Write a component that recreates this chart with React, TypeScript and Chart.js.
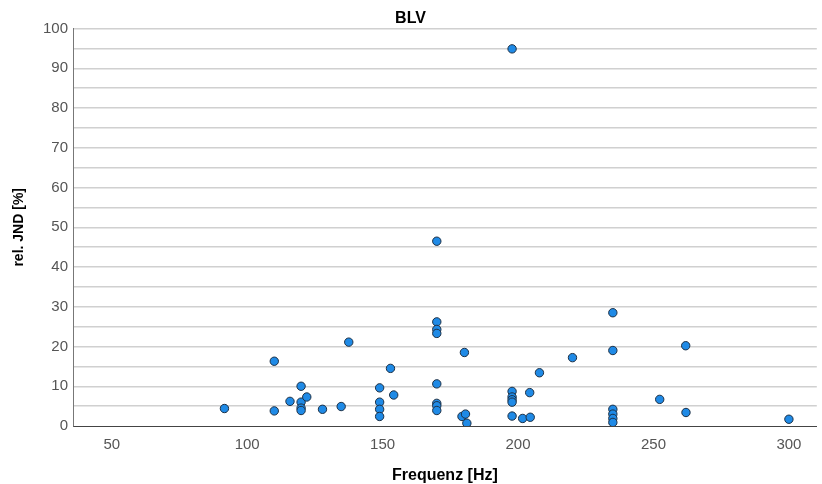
import React, { useEffect, useRef } from "react";
import { Chart, registerables } from "chart.js";

Chart.register(...registerables);

// Frequency [Hz] of each measurement
const frequencies: number[] = [
  91.6, 110, 110, 115.8, 119.9, 119.9, 119.9, 119.9, 122, 127.8,
  134.7, 137.5, 148.9, 148.9, 148.9, 148.9, 152.9, 154.1, 170, 170,
  170, 170, 170, 170, 170, 170, 180.2, 179.3, 180.6, 181.1,
  197.8, 197.8, 197.8, 197.8, 197.8, 197.8, 201.7, 204.3, 204.5, 207.9,
  220.1, 235, 235, 235, 235, 235, 235, 252.3, 261.9, 262,
  300,
];

// Relative just-noticeable difference [%] for each measurement
const relJnd: number[] = [
  4.4, 16.3, 3.8, 6.2, 10.0, 6.0, 4.5, 3.9, 7.3, 4.2,
  4.9, 21.1, 9.6, 6.0, 4.2, 2.4, 14.5, 7.8, 46.5, 26.2,
  24.3, 23.3, 10.6, 5.7, 5.1, 3.9, 18.5, 2.4, 3.0, 0.7,
  94.9, 8.7, 7.3, 6.6, 6.0, 2.5, 1.9, 8.4, 2.2, 13.4,
  17.2, 28.5, 19.0, 4.2, 3.0, 1.9, 0.9, 6.7, 20.2, 3.4,
  1.7,
];

const xTickValues: number[] = [50, 100, 150, 200, 250, 300];

const FONT = "'Liberation Sans', Arial, sans-serif";

export default function App() {
  const canvasRef = useRef<HTMLCanvasElement | null>(null);

  useEffect(() => {
    document.body.style.margin = "0";
    const canvas = canvasRef.current;
    if (!canvas) return;

    const points = frequencies.map((f, i) => ({ x: f, y: relJnd[i] }));

    const chart = new Chart(canvas, {
      type: "scatter",
      data: {
        datasets: [
          {
            label: "BLV",
            data: points,
            backgroundColor: "#1f8ae6",
            borderColor: "#1c2f44",
            borderWidth: 1,
            pointRadius: 4.2,
            pointHoverRadius: 4.2,
          },
        ],
      },
      options: {
        responsive: false,
        animation: false,
        layout: { padding: { left: 0, right: 1, top: 0, bottom: -2 } },
        plugins: {
          legend: { display: false },
          tooltip: { enabled: false },
          title: {
            display: true,
            text: "BLV",
            color: "#000000",
            font: { family: FONT, size: 16, weight: "bold" },
            padding: { top: 9.4, bottom: 0 },
          },
        },
        scales: {
          x: {
            type: "linear",
            min: 35.7,
            max: 310.3,
            afterBuildTicks: (scale: any) => {
              scale.ticks = xTickValues.map((v) => ({ value: v }));
            },
            ticks: {
              color: "#555555",
              font: { family: FONT, size: 15 },
              padding: 10,
              maxRotation: 0,
              autoSkip: false,
            },
            grid: { display: false, drawTicks: false },
            border: { display: true, color: "#444444", width: 1 },
            title: {
              display: true,
              text: "Frequenz [Hz]",
              color: "#000000",
              font: { family: FONT, size: 16, weight: "bold" },
              padding: { top: 2.4, bottom: 0.4 },
            },
          },
          y: {
            type: "linear",
            min: 0,
            max: 100,
            ticks: {
              stepSize: 5,
              autoSkip: false,
              color: "#555555",
              font: { family: FONT, size: 15 },
              padding: 5,
              callback: (v: any) => (Number(v) % 10 === 0 ? String(v) : ""),
            },
            grid: {
              display: true,
              drawTicks: false,
              color: (ctx: any) => (ctx.tick && ctx.tick.value === 0 ? "rgba(0,0,0,0)" : "#d0d0d0"),
              lineWidth: 1.5,
            },
            border: { display: true, color: "#777777", width: 1 },
            title: {
              display: true,
              text: "rel. JND [%]",
              color: "#000000",
              font: { family: FONT, size: 14, weight: "bold" },
              padding: { top: 11.1, bottom: 10.1 },
            },
          },
        },
      },
    });

    return () => {
      chart.destroy();
    };
  }, []);

  return (
    <div style={{ position: "absolute", left: 0, top: 0, width: 822, height: 484 }}>
      <canvas ref={canvasRef} width={822} height={484} />
    </div>
  );
}
